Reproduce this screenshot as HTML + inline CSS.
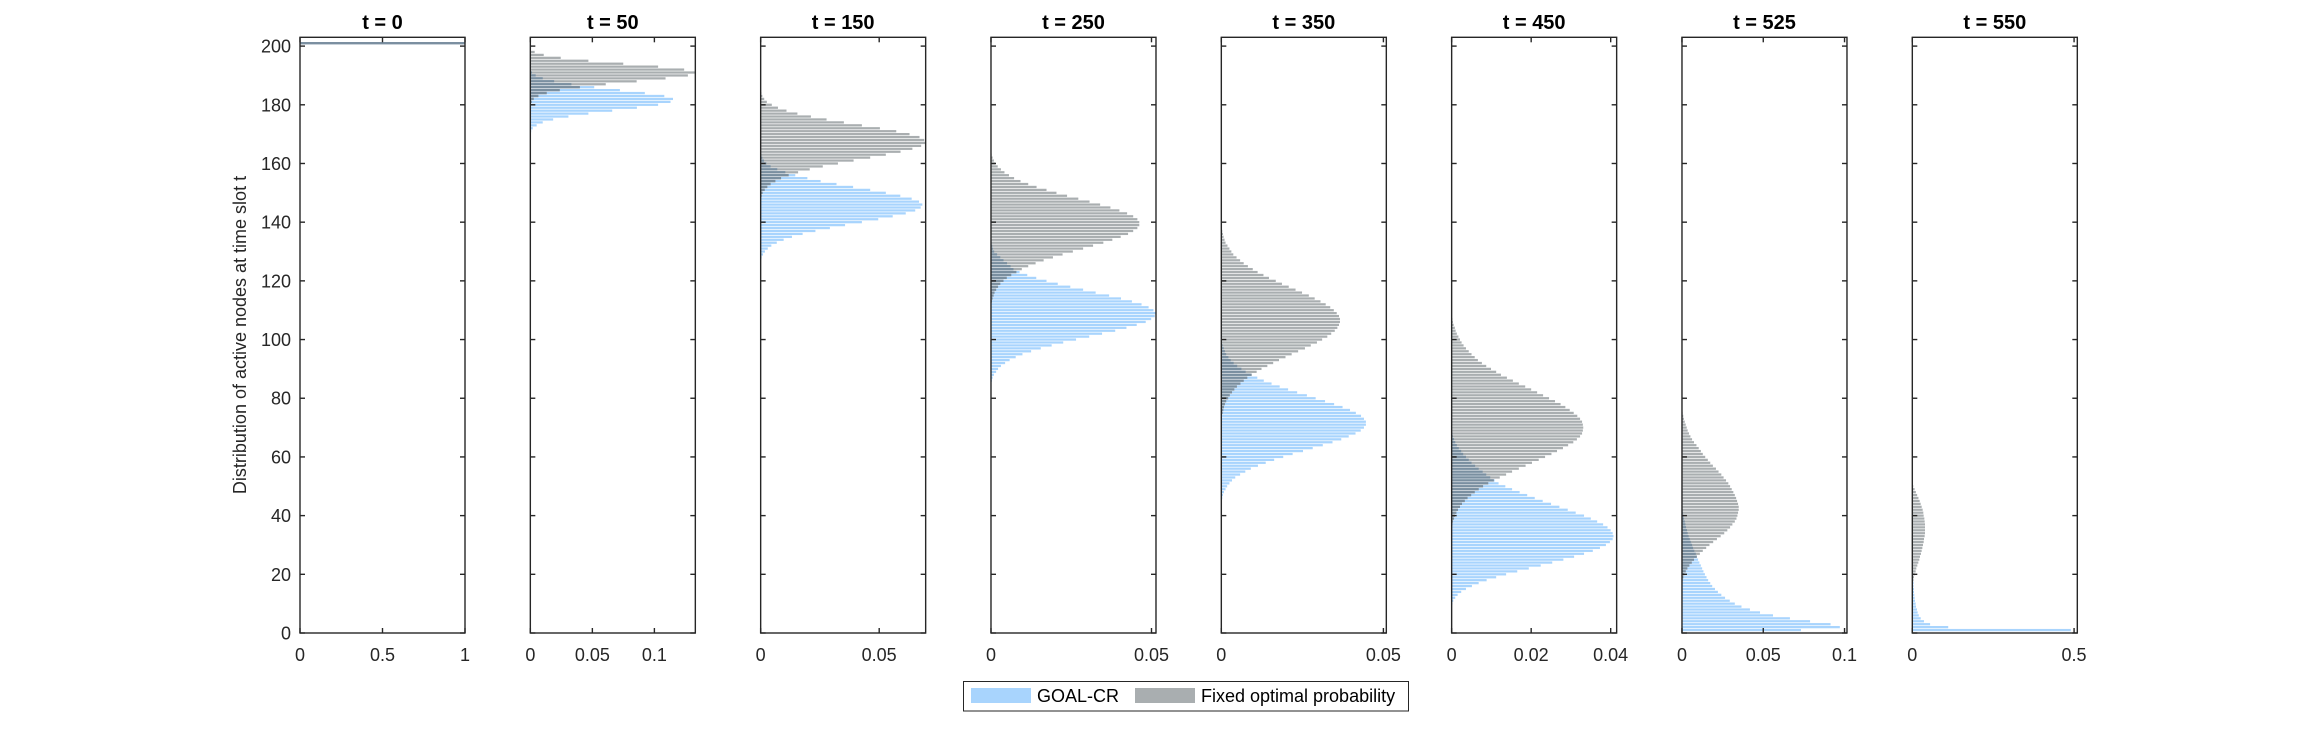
<!DOCTYPE html>
<html><head><meta charset="utf-8">
<style>
html,body{margin:0;padding:0;background:#fff;}
svg{display:block;font-family:"Liberation Sans",Arial,sans-serif;}
</style></head>
<body>
<svg id="chart" width="2306" height="732" viewBox="0 0 2306 732" xmlns="http://www.w3.org/2000/svg">
<text x="0" y="0" transform="translate(246,335) rotate(-90)" text-anchor="middle" font-size="18" fill="#262626">Distribution of active nodes at time slot t</text>
<g id="panels"></g>
<g>
<rect x="963.5" y="681.5" width="445" height="29.5" fill="#fff" stroke="#262626" stroke-width="1"/>
<rect x="971" y="688" width="60" height="15" fill="#a8d4fd"/>
<text x="1037" y="702" font-size="18" fill="#000">GOAL-CR</text>
<rect x="1135" y="688" width="60" height="15" fill="#a9aeb0"/>
<text x="1201" y="702" font-size="18" fill="#000">Fixed optimal probability</text>
</g>
</svg>
<script>
// Panel titles / time slots
const titles = ["t = 0","t = 50","t = 150","t = 250","t = 350","t = 450","t = 525","t = 550"];
// x-axis limits per panel
const xMax = [1, 0.133, 0.0696, 0.0514, 0.0509, 0.0415, 0.1015, 0.51];
// x tick values and labels per panel
const xTicks = [[0,0.5,1],[0,0.05,0.1],[0,0.05],[0,0.05],[0,0.05],[0,0.02,0.04],[0,0.05,0.1],[0,0.5]];
const xTickLabels = [["0","0.5","1"],["0","0.05","0.1"],["0","0.05"],["0","0.05"],["0","0.05"],["0","0.02","0.04"],["0","0.05","0.1"],["0","0.5"]];
// y-axis
const yMax = 203;
const yTicks = [0,20,40,60,80,100,120,140,160,180,200];
const yTickLabels = ["0","20","40","60","80","100","120","140","160","180","200"];
// Series values (probability x 1000), listed from the highest node count downward; start = highest node count
const goalStart = [201, 191, 163, 133, 99, 68, 43, 20];
const fixedStart = [201, 198, 184, 163, 137, 108, 76, 50];
const goal0 = [1000];
const fixed0 = [1000];
const goal50 = [1.3,4.3,10,19.2,33.1,51.5,72.2,92.3,108,115,113,103,85.9,66,46.8,30.7,18.4,10,5.1,1.9,0.7];
const fixed50 = [3.5,10.8,24.5,46.8,74.9,103,124,133,127,109,85.7,60.8,39.9,23.7,13.2,6.5,2.7,1.1];
const goal150 = [0.3,0.7,1.4,2.4,4.2,7.0,10.4,14.6,19.7,25.3,32.0,39.0,46.2,52.8,58.9,63.7,66.8,68.2,67.5,65.2,61.2,55.7,49.6,42.7,35.6,29.2,23.1,17.7,13.2,9.7,6.8,4.5,3.0,1.8,1.0,0.4];
const fixed150 = [0.3,0.7,1.5,2.6,4.7,7.3,10.9,15.5,21.2,27.8,35.1,42.7,50.3,57.2,62.8,67.0,69.0,69.6,67.7,64.0,59.0,52.8,46.2,39.2,32.6,26.2,20.7,15.8,11.8,8.6,6.2,4.2,2.8,1.7,0.8,0.4];
const goal250 = [0.2,0.4,0.6,1.0,1.9,2.9,3.9,5.0,6.1,7.0,8.9,11.3,14.1,17.3,20.8,24.7,28.7,32.6,36.8,40.5,43.9,46.9,49.1,50.6,51.3,51.0,49.9,48.2,45.4,42.2,38.7,34.6,30.6,26.5,22.5,18.9,15.5,12.5,9.8,7.7,5.8,4.4,3.1,2.2,1.6,0.9,0.5,0.3];
const fixed250 = [0.2,0.5,0.9,1.4,2.1,3.1,4.2,5.6,7.2,9.2,11.6,14.2,17.3,20.4,23.7,27.2,30.7,34.0,37.2,40.0,42.4,44.3,45.6,46.2,46.2,45.6,44.3,42.7,40.4,37.8,35.0,31.8,28.7,25.5,22.3,19.3,16.4,13.9,11.6,9.6,7.9,6.3,4.9,3.9,2.9,2.2,1.6,1.1,0.8,0.5,0.3];
const goal350 = [0.2,0.4,0.7,1.1,1.5,2.2,2.9,3.8,4.9,6.2,7.5,9.3,11.1,13.1,15.5,18.0,20.6,23.4,26.4,29.1,32.0,34.8,37.4,39.7,41.5,43.1,44.0,44.6,44.6,44.0,43.0,41.4,39.3,37.0,34.3,31.3,28.2,25.2,22.0,19.1,16.3,13.7,11.3,9.1,7.4,5.8,4.3,3.3,2.5,1.8,1.3,0.8,0.5,0.3,0.1];
const fixed350 = [0.3,0.5,0.7,1.0,1.3,1.9,2.5,3.1,3.7,4.7,5.8,6.9,8.2,9.7,11.2,13.0,14.7,16.8,18.7,20.8,22.9,24.9,27.0,28.8,30.6,32.2,33.6,34.7,35.6,36.3,36.6,36.6,36.3,35.8,35.0,33.9,32.7,31.1,29.5,27.6,25.8,23.7,21.7,19.8,17.8,16.0,14.2,12.4,10.9,9.4,8.0,6.9,5.9,4.8,4.0,3.3,2.6,2.1,1.5,1.1,0.8,0.6,0.4,0.2];
const goal450 = [0.2,0.3,0.6,0.9,1.3,1.8,2.4,2.9,3.6,4.3,5.0,5.9,6.8,7.8,8.7,9.7,10.8,11.8,13.5,15.2,17.1,19.0,20.9,22.9,25.0,27.1,29.2,31.2,33.3,35.0,36.6,38.1,39.2,40.0,40.5,40.7,40.5,39.8,38.8,37.3,35.5,33.3,30.8,28.1,25.3,22.4,19.4,16.5,13.7,11.2,8.8,6.8,5.1,3.6,2.4,1.5,0.9,0.4,0.2];
const fixed450 = [0.1,0.2,0.3,0.5,0.8,1.0,1.3,1.7,2.1,2.5,3.0,3.6,4.3,5.0,5.8,6.6,7.6,8.7,9.9,11.2,12.4,13.9,15.4,16.9,18.5,20.0,21.5,23.0,24.5,26.0,27.4,28.6,29.7,30.7,31.6,32.3,32.8,33.0,33.1,33.0,32.8,32.3,31.5,30.6,29.3,28.0,26.5,25.1,23.5,21.9,20.2,18.6,16.9,15.2,13.7,12.1,10.6,9.2,7.9,6.8,5.8,4.9,4.0,3.3,2.6,2.1,1.6,1.2,0.8,0.6,0.3,0.2];
const goal525 = [0.2,0.4,0.6,1.0,1.2,1.7,2.1,2.5,3.1,3.5,4.1,4.8,5.4,6.2,6.8,7.6,8.5,9.1,9.9,10.7,11.6,12.4,13.2,14.1,15.1,16.1,17.4,18.6,20.3,22.1,24.2,26.5,29.4,32.5,36.6,41.8,48.0,56.0,66.4,78.8,91.4,97.1,73.2];
const fixed525 = [0.2,0.4,0.8,1.2,1.7,2.3,2.9,3.5,4.3,5.2,6.2,7.4,8.9,10.3,11.6,12.8,14.3,15.9,17.4,19.0,20.9,22.5,24.2,25.6,27.1,28.5,29.6,30.6,31.6,32.5,33.3,33.9,34.5,34.9,34.9,34.5,34.1,33.5,32.5,31.0,29.6,27.9,26.0,23.8,21.5,19.2,16.9,14.9,12.8,11.0,9.1,7.4,6.0,4.5,3.3,2.3,1.4,0.8,0.4,0.2];
const goal550 = [1,2,3,4,4,5,5.2,6.2,7.2,8.3,10.3,11.4,14.4,16.5,20,26,36,55,111,490];
const fixed550 = [3,7,11,15,19,22.7,25.8,28.9,32,34,35.1,37.2,38.2,39.2,39.2,39.2,39.2,38.2,36.1,35.1,33,31,28.9,26.8,23.7,21.7,18.6,15.5,12.4,10.3,7.2,5.2,3.1,2.1];
const goalSeries = [goal0,goal50,goal150,goal250,goal350,goal450,goal525,goal550];
const fixedSeries = [fixed0,fixed50,fixed150,fixed250,fixed350,fixed450,fixed525,fixed550];

const NS = "http://www.w3.org/2000/svg";
const root = document.getElementById('panels');
const plotTop = 37.3, plotBottom = 633, plotW = 165;
function panelLeft(i){ return 300 + i*230.33; }
function yScale(v){ return plotBottom - v/yMax*(plotBottom-plotTop); }
function mk(tag, attrs, parent){
  const e = document.createElementNS(NS, tag);
  for (const k in attrs) e.setAttribute(k, attrs[k]);
  parent.appendChild(e);
  return e;
}
const barH = 2.25;
for (let p = 0; p < titles.length; p++) {
  const L = panelLeft(p);
  const xScale = v => L + v/xMax[p]*plotW;
  const g = mk('g', {}, root);
  
  
  const goal = goalSeries[p], fixed = fixedSeries[p];
  const gmap = {}, fmap = {};
  goal.forEach((v,k)=>{ gmap[goalStart[p]-k] = v/1000; });
  fixed.forEach((v,k)=>{ fmap[fixedStart[p]-k] = v/1000; });
  for (const y in gmap) {
    const r = mk('rect', {x:L, y:yScale(+y)-barH/2, width:xScale(gmap[y])-L, height:barH, fill:'#a8d4fd'}, g);
    
    
  }
  for (const y in fmap) {
    const r = mk('rect', {x:L, y:yScale(+y)-barH/2, width:xScale(fmap[y])-L, height:barH, fill:'#a9aeb0'}, g);
    
    
    if (gmap[y] !== undefined) {
      const o = mk('rect', {x:L, y:yScale(+y)-barH/2, width:xScale(Math.min(gmap[y],fmap[y]))-L, height:barH, fill:'#7a8fa0'}, g);
      
      
    }
  }
  // axes box
  const box = mk('rect', {x:L, y:plotTop, width:plotW, height:plotBottom-plotTop, fill:'none', stroke:'#262626', 'stroke-width':1.4}, g);
  
  
  // y ticks
  yTicks.forEach((t,k)=>{
    const yy = yScale(t);
    const a = mk('line', {x1:L, x2:L+5, y1:yy, y2:yy, stroke:'#262626', 'stroke-width':1.4}, g);
    
    
    const b = mk('line', {x1:L+plotW-5, x2:L+plotW, y1:yy, y2:yy, stroke:'#262626', 'stroke-width':1.4}, g);
    
    
    if (p === 0) {
      const tx = mk('text', {x:L-9, y:yy+6.5, 'text-anchor':'end', 'font-size':18, fill:'#262626'}, g);
      
      
      tx.textContent = yTickLabels[k];
    }
  });
  // x ticks
  xTicks[p].forEach((t,k)=>{
    const xx = xScale(t);
    const a = mk('line', {x1:xx, x2:xx, y1:plotBottom, y2:plotBottom-5, stroke:'#262626', 'stroke-width':1.4}, g);
    
    
    const b = mk('line', {x1:xx, x2:xx, y1:plotTop, y2:plotTop+5, stroke:'#262626', 'stroke-width':1.4}, g);
    
    
    const tx = mk('text', {x:xx, y:661, 'text-anchor':'middle', 'font-size':18, fill:'#262626'}, g);
    
    
    tx.textContent = xTickLabels[p][k];
  });
  const tt = mk('text', {x:L+plotW/2, y:29, 'text-anchor':'middle', 'font-size':20, 'font-weight':'bold', fill:'#000'}, g);
  
  
  tt.textContent = titles[p];
}
</script>
</body></html>
